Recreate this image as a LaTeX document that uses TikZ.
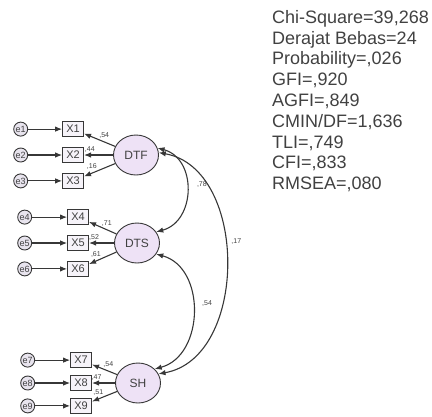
\documentclass[tikz,border=0pt]{standalone}
\usepackage{fontspec}
\setmainfont{Liberation Sans}
\usetikzlibrary{shapes.geometric, arrows.meta, positioning, calc}

\definecolor{latentfill}{RGB}{238,226,246}
\definecolor{boxfill}{RGB}{246,243,249}
\definecolor{errfill}{RGB}{232,228,238}
\definecolor{linegray}{RGB}{55,55,55}
\definecolor{textgray}{RGB}{65,65,65}

\begin{document}
\begin{tikzpicture}[x=1pt, y=1pt, node distance=10pt]
        \tikzstyle{latent} = [ellipse, minimum width=45pt, minimum height=40pt, inner sep=0pt, draw=linegray, line width=0.9pt, fill=latentfill, text=textgray, font=\fontsize{12}{12}\selectfont]
        \tikzstyle{indicator} = [rectangle, minimum width=21pt, minimum height=15pt, inner sep=0pt, draw=linegray, line width=0.9pt, fill=boxfill, text=textgray, font=\fontsize{11}{11}\selectfont]
        \tikzstyle{err} = [circle, minimum size=14pt, inner sep=0pt, draw=linegray, line width=0.9pt, fill=errfill, text=textgray, font=\fontsize{9}{9}\selectfont]
        \tikzstyle{arrow} = [line width=1.1pt, draw=linegray, -{Latex[length=7pt,width=5.5pt]}]
        \tikzstyle{cov} = [line width=1.1pt, draw=linegray, {Latex[length=7pt,width=5.5pt]}-{Latex[length=7pt,width=5.5pt]}]
        \tikzstyle{load} = [inner sep=1pt, text=textgray, font=\fontsize{7}{7}\selectfont]

        \useasboundingbox (0,0) rectangle (432,-416);

        % fit statistics
        \node (stats) [anchor=north west, align=left, inner sep=0pt, text=textgray, font=\fontsize{18}{20.8}\selectfont] at (272,-10) {Chi-Square=39,268\\Derajat Bebas=24\\Probability=,026\\GFI=,920\\AGFI=,849\\CMIN/DF=1,636\\TLI=,749\\CFI=,833\\RMSEA=,080};

        % latent variables
        \node (dtf) [latent] at (136,-155) {DTF};
        \node (dts) [latent] at (137,-243) {DTS};
        \node (sh) [latent] at (138,-383) {SH};

        % DTF
        \node (x2) [indicator, left=29pt of dtf] {X2};
        \node (x1) [indicator, above=of x2] {X1};
        \node (x3) [indicator, below=of x2] {X3};
        \node (e1) [err, left=34pt of x1] {e1};
        \node (e2) [err, left=34pt of x2] {e2};
        \node (e3) [err, left=34pt of x3] {e3};

        % DTS
        \node (x5) [indicator, left=25pt of dts] {X5};
        \node (x4) [indicator, above=of x5] {X4};
        \node (x6) [indicator, below=of x5] {X6};
        \node (e4) [err, left=35pt of x4] {e4};
        \node (e5) [err, left=35pt of x5] {e5};
        \node (e6) [err, left=35pt of x6] {e6};

        % SH
        \node (x8) [indicator, left=23pt of sh] {X8};
        \node (x7) [indicator, above=7pt of x8] {X7};
        \node (x9) [indicator, below=7pt of x8] {X9};
        \node (e7) [err, left=35pt of x7] {e7};
        \node (e8) [err, left=35pt of x8] {e8};
        \node (e9) [err, left=35pt of x9] {e9};

        \draw [arrow] (e1) -- (x1);
        \draw [arrow] (e2) -- (x2);
        \draw [arrow] (e3) -- (x3);
        \draw [arrow] (e4) -- (x4);
        \draw [arrow] (e5) -- (x5);
        \draw [arrow] (e6) -- (x6);
        \draw [arrow] (e7) -- (x7);
        \draw [arrow] (e8) -- (x8);
        \draw [arrow] (e9) -- (x9);

        \draw [arrow] (dtf) -- node (l1) [load, above=2pt, pos=0.35] {,54} (x1);
        \draw [arrow] (dtf) -- node (l2) [load, above=1pt, pos=0.8] {,44} (x2);
        \draw [arrow] (dtf) -- node (l3) [load, above=2pt, pos=0.75] {,16} (x3);
        \draw [arrow] (dts) -- node (l4) [load, above=2pt, pos=0.35] {,71} (x4);
        \draw [arrow] (dts) -- node (l5) [load, above=1pt, pos=0.8] {,52} (x5);
        \draw [arrow] (dts) -- node (l6) [load, above=2pt, pos=0.75] {,61} (x6);
        \draw [arrow] (sh) -- node (l7) [load, above=2pt, pos=0.35] {,54} (x7);
        \draw [arrow] (sh) -- node (l8) [load, above=1pt, pos=0.8] {,47} (x8);
        \draw [arrow] (sh) -- node (l9) [load, above=2pt, pos=0.75] {,51} (x9);

        % covariances
        \draw [cov] (dtf.18) to[out=-15, in=15, looseness=1.25] node (c1) [load, right=9pt, pos=0.45] {,78} (dts.30);
        \draw [cov] (dts.-30) to[out=-15, in=15, looseness=1.15] node (c2) [load, right=8pt, pos=0.45] {,54} (sh.40);
        \draw [cov] (dtf.6) to[out=-10, in=10, looseness=1.06] node (c3) [load, right=5pt, pos=0.43] {,17} (sh.24);
    \end{tikzpicture}
\end{document}
